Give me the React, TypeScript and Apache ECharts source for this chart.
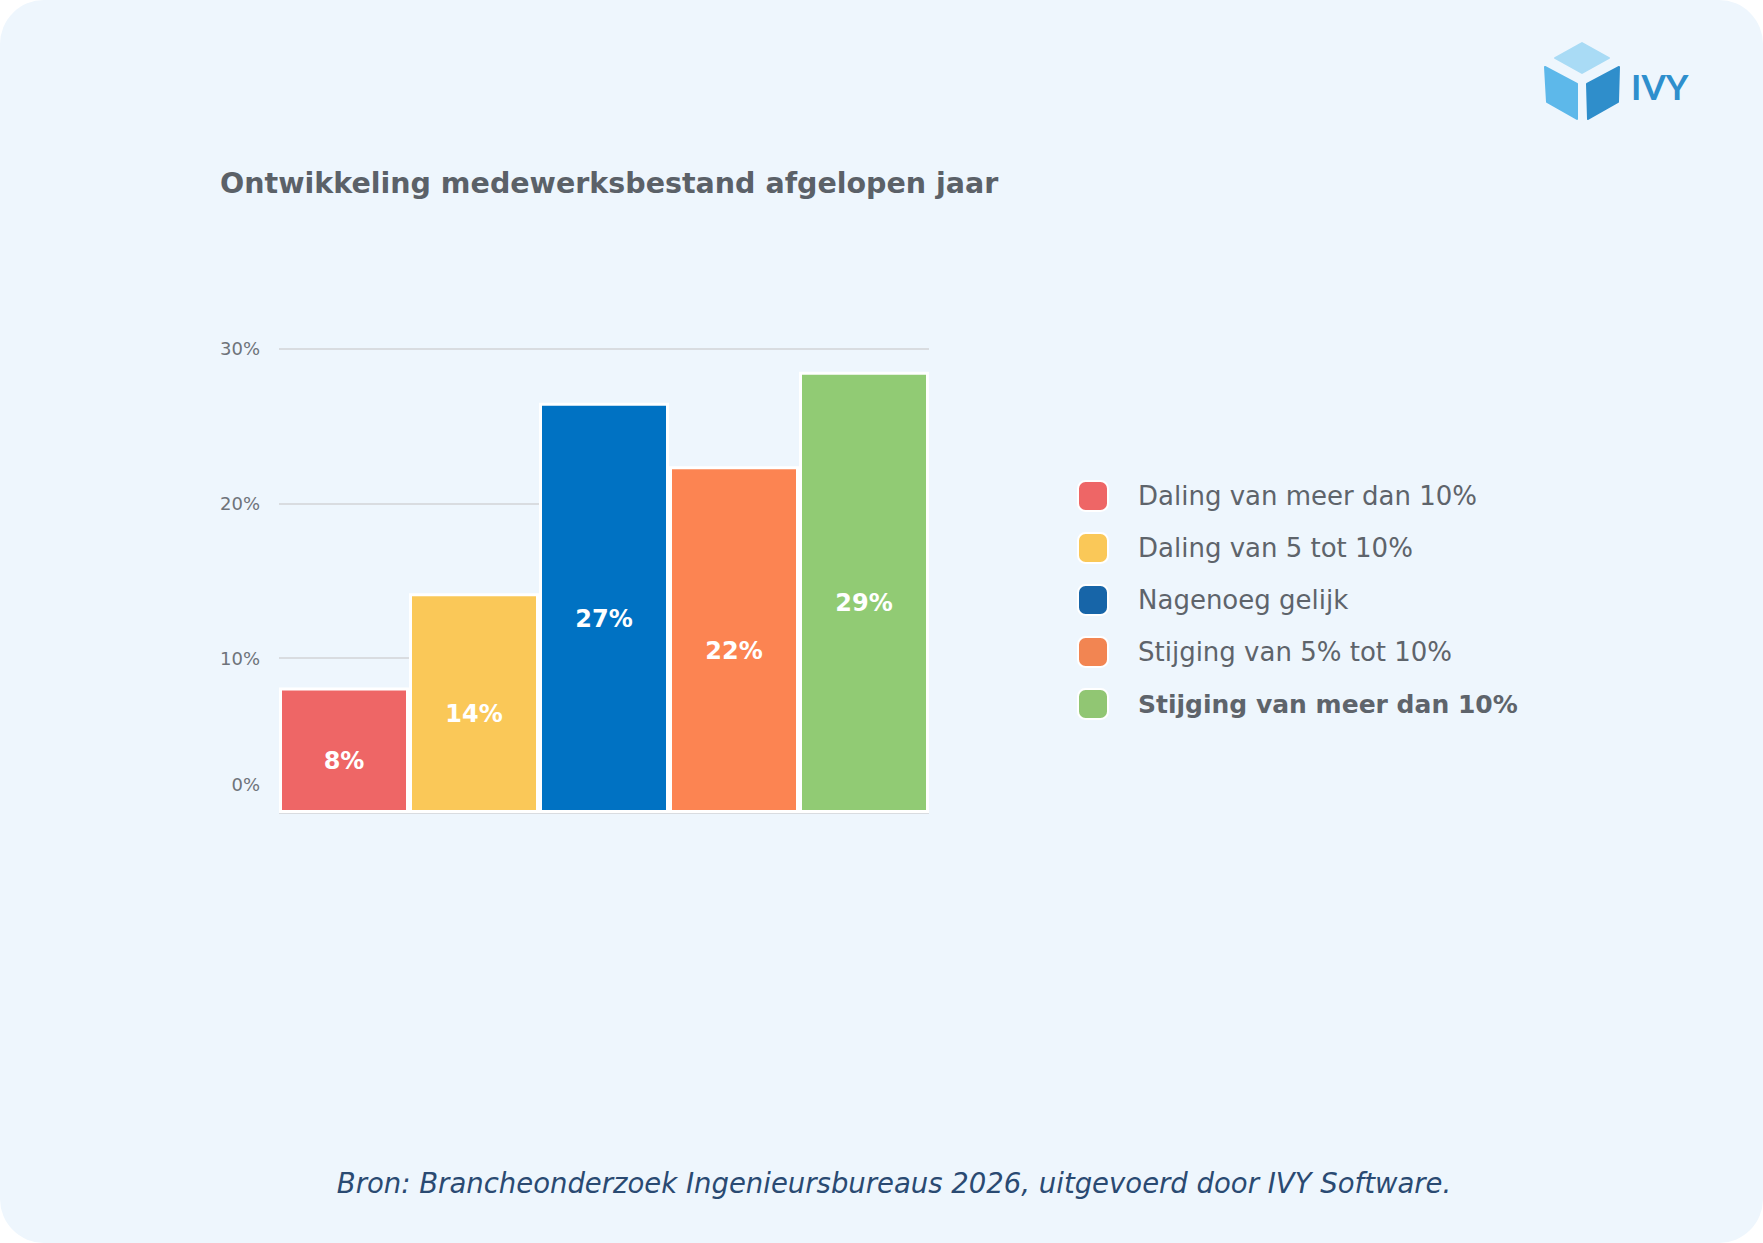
import React, { useEffect, useRef } from 'react';
import * as echarts from 'echarts';

const categories = [
  'Daling van meer dan 10%',
  'Daling van 5 tot 10%',
  'Nagenoeg gelijk',
  'Stijging van 5% tot 10%',
  'Stijging van meer dan 10%',
];
const values = [8.1, 14.2, 26.5, 22.4, 28.5];
const barColors = ['#EE6666', '#FAC858', '#0072C3', '#FC8452', '#91CB74'];
const legendColors = ['#EE6666', '#FAC858', '#1765A8', '#F28552', '#91C673'];
const yTicks = [0, 10, 20, 30];

const FONT = "'DejaVu Sans', sans-serif";

const App: React.FC = () => {
  const chartRef = useRef<HTMLDivElement>(null);

  useEffect(() => {
    if (!chartRef.current) return;
    const chart = echarts.init(chartRef.current, null, { renderer: 'svg' });

    const series = categories.map((name, i) => ({
      name,
      type: 'bar' as const,
      stack: 'all',
      barWidth: '100%',
      data: categories.map((_, j) => (j === i ? values[i] : '-')),
      itemStyle: { color: barColors[i], borderColor: '#ffffff', borderWidth: 3 },
      label: {
        show: true,
        position: 'inside' as const,
        offset: [0, 11],
        formatter: (p: any) => Math.round(p.value) + '%',
        color: '#ffffff',
        fontFamily: FONT,
        fontWeight: 'bold' as const,
        fontSize: 24,
      },
      emphasis: { disabled: true },
    }));

    const option: echarts.EChartsOption = {
      animation: false,
      title: {
        text: 'Ontwikkeling medewerksbestand afgelopen jaar',
        left: 220,
        top: 169,
        padding: 0,
        textStyle: { fontFamily: FONT, fontSize: 28.5, fontWeight: 'bold', color: '#5B6168' },
      },
      grid: { left: 279, right: 834, top: 348.6, bottom: 430 },
      xAxis: {
        type: 'category',
        data: categories,
        axisLine: { show: false },
        axisTick: { show: false },
        axisLabel: { show: false },
      },
      yAxis: {
        type: 'value',
        min: yTicks[0],
        max: yTicks[yTicks.length - 1],
        interval: 10,
        axisLine: { show: false },
        axisTick: { show: false },
        splitLine: { lineStyle: { color: '#D9DCE0', width: 2 } },
        axisLabel: {
          margin: 19,
          fontFamily: FONT,
          fontSize: 18,
          color: '#6E737A',
          formatter: (v: number) => (v === 0 ? '{z|0%}' : v + '%'),
          rich: {
            z: { fontFamily: FONT, fontSize: 18, color: '#6E737A', padding: [0, 0, 58, 0] },
          },
        },
      },
      legend: {
        orient: 'vertical',
        left: 1077,
        top: 480,
        padding: 0,
        itemWidth: 30,
        itemHeight: 30,
        itemGap: 20,
        icon: 'roundRect',
        selectedMode: false,
        textStyle: {
          fontFamily: FONT,
          fontSize: 26,
          color: '#5E646B',
          padding: [0, 0, 0, 25],
        },
        data: categories.map((name, i) => ({
          name,
          itemStyle: { color: legendColors[i] },
          textStyle: i === categories.length - 1 ? { fontWeight: 'bold', fontSize: 25 } : undefined,
        })),
      },
      graphic: [
        {
          type: 'polygon',
          shape: { points: [[1555, 58], [1582, 43], [1609, 58], [1582, 73]] },
          style: { fill: '#A9DBF5', stroke: '#A9DBF5', lineWidth: 2, lineJoin: 'round' },
        },
        {
          type: 'polygon',
          shape: { points: [[1545, 67], [1577, 84], [1577, 119], [1547, 102]] },
          style: { fill: '#5DB8EA', stroke: '#5DB8EA', lineWidth: 2, lineJoin: 'round' },
        },
        {
          type: 'polygon',
          shape: { points: [[1587, 84], [1619, 67], [1618, 102], [1588, 119]] },
          style: { fill: '#2F8ECB', stroke: '#2F8ECB', lineWidth: 2, lineJoin: 'round' },
        },
        {
          type: 'text',
          x: 1631,
          y: 86,
          style: {
            text: 'IVY',
            fontFamily: 'Lato, sans-serif',
            fontWeight: 'bold',
            fontSize: 35,
            fill: '#2E8FCD',
            verticalAlign: 'middle',
          },
        },
        {
          type: 'text',
          x: 894,
          y: 1183,
          style: {
            text: 'Bron: Brancheonderzoek Ingenieursbureaus 2026, uitgevoerd door IVY Software.',
            fontFamily: FONT,
            fontStyle: 'italic',
            fontSize: 27.5,
            fill: '#2A4A72',
            align: 'center',
            verticalAlign: 'middle',
          },
        },
      ],
      series,
    };

    chart.setOption(option);
    return () => chart.dispose();
  }, []);

  return (
    <div style={{ position: 'fixed', left: 0, top: 0, width: 1763, height: 1243, background: '#ffffff' }}>
      <div
        style={{
          position: 'absolute',
          inset: 0,
          borderRadius: 44,
          background: '#EEF6FD',
          overflow: 'hidden',
        }}
      >
        <div ref={chartRef} style={{ width: 1763, height: 1243 }} />
      </div>
    </div>
  );
};

export default App;
